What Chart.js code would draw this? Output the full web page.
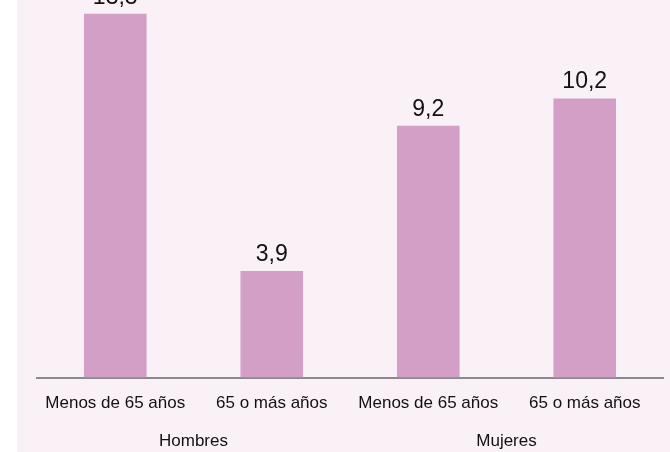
<!DOCTYPE html>
<html>
<head>
<meta charset="utf-8">
<script src="https://cdn.jsdelivr.net/npm/chart.js@4"></script>
<style>
  html, body { margin: 0; padding: 0; background: #fff; }
  #wrap { position: absolute; left: 17px; top: 0; width: 653px; height: 452px; background: #f9f1f6; }
</style>
</head>
<body>
<div id="wrap"><canvas id="myChart" width="653" height="452"></canvas></div>
<script>
const labels = ['Menos de 65 años', '65 o más años', 'Menos de 65 años', '65 o más años'];
const groups = ['Hombres', 'Mujeres'];
const values = [13.3, 3.9, 9.2, 10.2];

const valueLabels = {
    id: 'valueLabels',
    afterDatasetsDraw(chart) {
        const ctx = chart.ctx;
        const meta = chart.getDatasetMeta(0);
        ctx.save();
        ctx.fillStyle = '#111';
        ctx.font = '23px "Liberation Sans", Arial, sans-serif';
        ctx.textAlign = 'center';
        ctx.textBaseline = 'bottom';
        meta.data.forEach(function (bar, i) {
            ctx.fillText(values[i].toFixed(1).replace('.', ','), bar.x, bar.y - 5);
        });
        ctx.restore();
    }
};

const groupLabels = {
    id: 'groupLabels',
    afterDraw(chart) {
        const ctx = chart.ctx;
        const x = chart.scales.x;
        ctx.save();
        ctx.fillStyle = '#111';
        ctx.font = '17px "Liberation Sans", Arial, sans-serif';
        ctx.textAlign = 'center';
        ctx.textBaseline = 'middle';
        groups.forEach(function (g, i) {
            const cx = (x.getPixelForValue(i * 2) + x.getPixelForValue(i * 2 + 1)) / 2;
            ctx.fillText(g, cx, 441);
        });
        ctx.restore();
    }
};

const data = {
    labels: labels,
    datasets: [{
        data: values,
        backgroundColor: '#d39fc6',
        categoryPercentage: 1,
        barPercentage: 0.4
    }]
};

const config = {
    type: 'bar',
    data: data,
    options: {
        responsive: false,
        animation: false,
        layout: { padding: { left: 20, right: 7, top: 0, bottom: 30 } },
        plugins: {
            legend: { display: false },
            tooltip: { enabled: false }
        },
        scales: {
            y: { display: false, min: 0, max: 13.8 },
            x: {
                grid: { display: false },
                border: { color: '#8a8a8a', width: 2 },
                ticks: {
                    color: '#111',
                    padding: 8,
                    font: { size: 17, family: '"Liberation Sans", Arial, sans-serif' }
                }
            }
        }
    },
    plugins: [valueLabels, groupLabels]
};

var myChart = new Chart(document.getElementById('myChart'), config);
</script>
</body>
</html>
